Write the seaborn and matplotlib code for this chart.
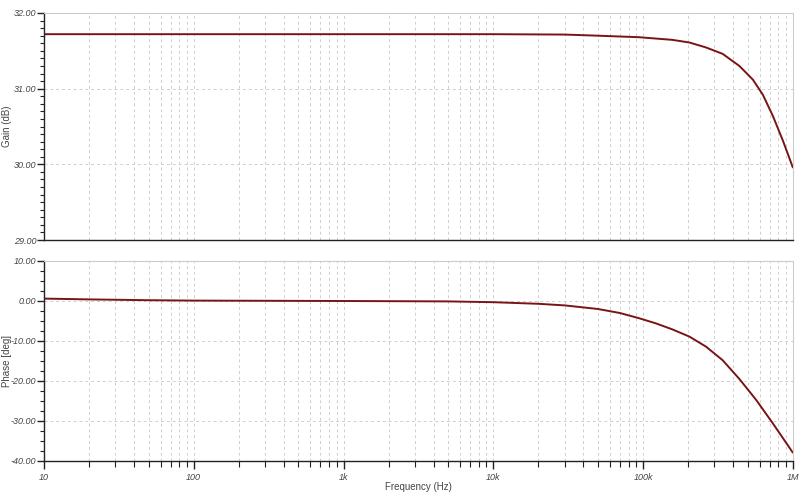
import numpy as np
import pandas as pd
import matplotlib
matplotlib.use("Agg")
import matplotlib.pyplot as plt
import matplotlib.ticker as mticker
import seaborn as sns

# values
gain_freq = [10, 100, 1e3, 1e4, 3e4, 5e4, 9.4e4, 1.57e5, 2.04e5, 2.63e5, 3.4e5, 4.4e5,
             5.41e5, 6.31e5, 7.36e5, 8.6e5, 1e6]
gain_db = [31.72, 31.72, 31.72, 31.72, 31.715, 31.70, 31.68, 31.645, 31.61, 31.545, 31.46,
           31.30, 31.12, 30.92, 30.64, 30.31, 29.96]
phase_freq = [10, 20, 50, 100, 1e3, 5e3, 1e4, 2e4, 3e4, 5e4, 7e4, 9.4e4, 1.22e5, 1.57e5,
              2.04e5, 2.63e5, 3.4e5, 4.4e5, 5.7e5, 7.36e5, 8.6e5, 1e6]
phase_deg = [0.6, 0.4, 0.2, 0.1, 0.0, -0.1, -0.3, -0.7, -1.1, -2.0, -3.0, -4.3, -5.6, -7.1,
             -8.9, -11.4, -14.8, -19.5, -24.75, -30.6, -34.3, -37.9]
x_ticks = [10, 100, 1e3, 1e4, 1e5, 1e6]
x_labels = ["10", "100", "1k", "10k", "100k", "1M"]

gain_df = pd.DataFrame({"freq": gain_freq, "gain": gain_db})
phase_df = pd.DataFrame({"freq": phase_freq, "phase": phase_deg})

sns.set_style("white")
plt.rcParams["font.family"] = ["Liberation Sans", "DejaVu Sans"]

fig = plt.figure(figsize=(8, 5), dpi=100)
ax1 = fig.add_axes([0.055, 0.52, 0.936, 0.454])
ax2 = fig.add_axes([0.055, 0.078, 0.936, 0.400])

line_col = "#7a1414"
sns.lineplot(data=gain_df, x="freq", y="gain", ax=ax1, color=line_col, linewidth=1.4)
sns.lineplot(data=phase_df, x="freq", y="phase", ax=ax2, color=line_col, linewidth=1.4)

grid_kw = dict(color="#cfcfcf", linestyle=(0, (3, 3)), linewidth=0.7)
for ax in (ax1, ax2):
    ax.set_xscale("log")
    ax.set_xlim(10, 1e6)
    ax.xaxis.set_major_locator(mticker.FixedLocator(x_ticks))
    ax.xaxis.set_minor_locator(mticker.LogLocator(base=10, subs=np.arange(2, 10)))
    ax.grid(True, which="major", axis="both", **grid_kw)
    ax.grid(True, which="minor", axis="x", **grid_kw)
    for s in ("top", "right"):
        ax.spines[s].set_color("#cccccc")
        ax.spines[s].set_linewidth(0.8)
    for s in ("left", "bottom"):
        ax.spines[s].set_color("#222222")
        ax.spines[s].set_linewidth(1.0)
    ax.tick_params(axis="y", which="major", direction="out", length=5, width=1, labelsize=6.5,
                   left=True, colors="#222222", labelcolor="#444444", pad=0.5)
    ax.tick_params(axis="y", which="minor", direction="out", length=3, width=0.8, left=True,
                   colors="#222222")
    ax.yaxis.set_label_coords(-0.043, 0.5)

ax1.set_ylim(29, 32)
ax1.yaxis.set_major_locator(mticker.MultipleLocator(1))
ax1.yaxis.set_minor_locator(mticker.MultipleLocator(0.1))
ax1.yaxis.set_major_formatter(mticker.FormatStrFormatter("%.2f"))
ax1.tick_params(axis="x", which="both", bottom=False, labelbottom=False)
ax1.set_xlabel("")
ax1.set_ylabel("Gain (dB)", fontsize=7, color="#444444")

ax2.set_ylim(-40, 10)
ax2.yaxis.set_major_locator(mticker.MultipleLocator(10))
ax2.yaxis.set_minor_locator(mticker.MultipleLocator(2.5))
ax2.yaxis.set_major_formatter(mticker.FormatStrFormatter("%.2f"))
ax2.xaxis.set_major_formatter(mticker.FixedFormatter(x_labels))
ax2.xaxis.set_minor_formatter(mticker.NullFormatter())
ax2.tick_params(axis="x", which="major", direction="out", length=6, width=1, labelsize=6.5,
                bottom=True, colors="#222222", labelcolor="#444444", pad=3)
ax2.tick_params(axis="x", which="minor", direction="out", length=4, width=0.8, bottom=True,
                colors="#222222")
ax2.set_xlabel("Frequency (Hz)", fontsize=7, color="#444444")
ax2.xaxis.set_label_coords(0.5, -0.105)
ax2.set_ylabel("Phase [deg]", fontsize=7, color="#444444")

for ax in (ax1, ax2):
    for lbl in ax.get_yticklabels() + ax.get_xticklabels():
        lbl.set_fontstyle("italic")

fig.savefig("out.png", dpi=100)
